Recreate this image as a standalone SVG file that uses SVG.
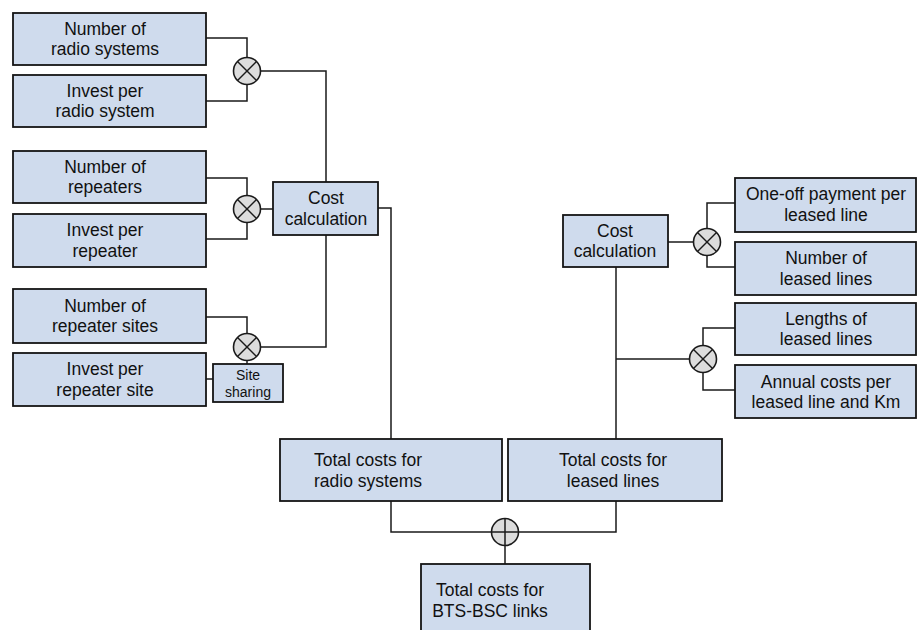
<svg xmlns="http://www.w3.org/2000/svg" width="918" height="630" viewBox="0 0 918 630">
  <defs>
    <style>
      .box { fill: #cfdbed; stroke: #141414; stroke-width: 1.8; }
      .lbl { font-family: "Liberation Sans", Arial, sans-serif; font-size: 17.5px; fill: #111; text-anchor: middle; }
      .sm { font-size: 14px; }
      .wire { fill: none; stroke: #1a1a1a; stroke-width: 1.5; }
      .op { fill: #dcdcdc; stroke: #1a1a1a; stroke-width: 1.6; }
      .opline { stroke: #1a1a1a; stroke-width: 1.5; }
    </style>
    <!-- multiplication operator -->
    <g id="mul">
      <circle class="op" cx="0" cy="0" r="13.5"/>
      <line class="opline" x1="-9.5" y1="-9.5" x2="9.5" y2="9.5"/>
      <line class="opline" x1="-9.5" y1="9.5" x2="9.5" y2="-9.5"/>
    </g>
    <!-- addition operator -->
    <g id="add">
      <circle class="op" cx="0" cy="0" r="13.5"/>
      <line class="opline" x1="-13.5" y1="0" x2="13.5" y2="0"/>
      <line class="opline" x1="0" y1="-13.5" x2="0" y2="13.5"/>
    </g>
  </defs>

  <rect width="918" height="630" fill="#ffffff"/>

  <!-- connectors -->
  <g id="connectors">
    <!-- radio systems -->
    <polyline class="wire" points="206,38 247,38 247,57.5"/>
    <polyline class="wire" points="206,101 247,101 247,84.5"/>
    <polyline class="wire" points="260.5,71 326,71 326,182"/>
    <!-- repeaters -->
    <polyline class="wire" points="206,178 247,178 247,195.5"/>
    <polyline class="wire" points="206,239 247,239 247,222.5"/>
    <line class="wire" x1="260.5" y1="209" x2="273" y2="209"/>
    <!-- repeater sites -->
    <polyline class="wire" points="206,317 247,317 247,333.5"/>
    <line class="wire" x1="247" y1="360.5" x2="247" y2="364"/>
    <line class="wire" x1="206" y1="379" x2="213" y2="379"/>
    <polyline class="wire" points="260.5,347 326,347 326,235"/>
    <!-- cost calculation to radio total -->
    <polyline class="wire" points="378,208 391,208 391,439"/>
    <!-- leased lines one-off -->
    <polyline class="wire" points="735,203 707,203 707,228.5"/>
    <polyline class="wire" points="735,267 707,267 707,255.5"/>
    <line class="wire" x1="668" y1="242" x2="693.5" y2="242"/>
    <!-- leased lines annual -->
    <polyline class="wire" points="735,328 703,328 703,345.5"/>
    <polyline class="wire" points="735,390 703,390 703,372.5"/>
    <line class="wire" x1="616" y1="359" x2="689.5" y2="359"/>
    <line class="wire" x1="616" y1="267" x2="616" y2="439"/>
    <!-- totals -->
    <polyline class="wire" points="391,501 391,532 491.5,532"/>
    <polyline class="wire" points="616,501 616,532 518.5,532"/>
    <line class="wire" x1="505" y1="545.5" x2="505" y2="564"/>
  </g>

  <!-- operators -->
  <g id="operators">
    <use href="#mul" x="247" y="71"/>
    <use href="#mul" x="247" y="209"/>
    <use href="#mul" x="247" y="347"/>
    <use href="#mul" x="707" y="242"/>
    <use href="#mul" x="703" y="359"/>
    <use href="#add" x="505" y="532"/>
  </g>

  <!-- left inputs -->
  <g id="num-radio">
    <rect class="box" x="13" y="13" width="193" height="52"/>
    <text class="lbl" x="105" y="34.5">Number of</text>
    <text class="lbl" x="105" y="55">radio systems</text>
  </g>
  <g id="inv-radio">
    <rect class="box" x="13" y="75" width="193" height="52"/>
    <text class="lbl" x="105" y="96.5">Invest per</text>
    <text class="lbl" x="105" y="117">radio system</text>
  </g>
  <g id="num-rep">
    <rect class="box" x="13" y="151" width="193" height="52"/>
    <text class="lbl" x="105" y="172.5">Number of</text>
    <text class="lbl" x="105" y="193">repeaters</text>
  </g>
  <g id="inv-rep">
    <rect class="box" x="13" y="214" width="193" height="53"/>
    <text class="lbl" x="105" y="236">Invest per</text>
    <text class="lbl" x="105" y="256.5">repeater</text>
  </g>
  <g id="num-sites">
    <rect class="box" x="13" y="289" width="193" height="54"/>
    <text class="lbl" x="105" y="311.5">Number of</text>
    <text class="lbl" x="105" y="332">repeater sites</text>
  </g>
  <g id="inv-site">
    <rect class="box" x="13" y="353" width="193" height="53"/>
    <text class="lbl" x="105" y="375">Invest per</text>
    <text class="lbl" x="105" y="395.5">repeater site</text>
  </g>
  <g id="site-sharing">
    <rect class="box" x="213" y="364" width="70" height="38"/>
    <text class="lbl sm" x="248" y="380">Site</text>
    <text class="lbl sm" x="248" y="397">sharing</text>
  </g>

  <!-- cost calculation (radio) -->
  <g id="calc-radio">
    <rect class="box" x="273" y="182" width="105" height="53"/>
    <text class="lbl" x="326" y="204">Cost</text>
    <text class="lbl" x="326" y="224.5">calculation</text>
  </g>

  <!-- cost calculation (leased) -->
  <g id="calc-leased">
    <rect class="box" x="563" y="215" width="105" height="52"/>
    <text class="lbl" x="615" y="236.5">Cost</text>
    <text class="lbl" x="615" y="257">calculation</text>
  </g>

  <!-- right inputs -->
  <g id="oneoff">
    <rect class="box" x="735" y="178" width="181" height="54"/>
    <text class="lbl" x="826" y="200">One-off payment per</text>
    <text class="lbl" x="826" y="220.5">leased line</text>
  </g>
  <g id="num-lines">
    <rect class="box" x="735" y="242" width="181" height="53"/>
    <text class="lbl" x="826" y="264">Number of</text>
    <text class="lbl" x="826" y="284.5">leased lines</text>
  </g>
  <g id="lengths">
    <rect class="box" x="735" y="303" width="181" height="52"/>
    <text class="lbl" x="826" y="324.5">Lengths of</text>
    <text class="lbl" x="826" y="345">leased lines</text>
  </g>
  <g id="annual">
    <rect class="box" x="735" y="365" width="181" height="53"/>
    <text class="lbl" x="826" y="387.5">Annual costs per</text>
    <text class="lbl" x="826" y="407.5">leased line and Km</text>
  </g>

  <!-- totals -->
  <g id="total-radio">
    <rect class="box" x="280" y="439" width="222" height="62"/>
    <text class="lbl" x="368" y="466">Total costs for</text>
    <text class="lbl" x="368" y="486.5">radio systems</text>
  </g>
  <g id="total-leased">
    <rect class="box" x="508" y="439" width="214" height="62"/>
    <text class="lbl" x="613" y="466">Total costs for</text>
    <text class="lbl" x="613" y="486.5">leased lines</text>
  </g>
  <g id="total-links">
    <rect class="box" x="421" y="564" width="169" height="76"/>
    <text class="lbl" x="490" y="595.5">Total costs for</text>
    <text class="lbl" x="490" y="616.5">BTS-BSC links</text>
  </g>
</svg>
